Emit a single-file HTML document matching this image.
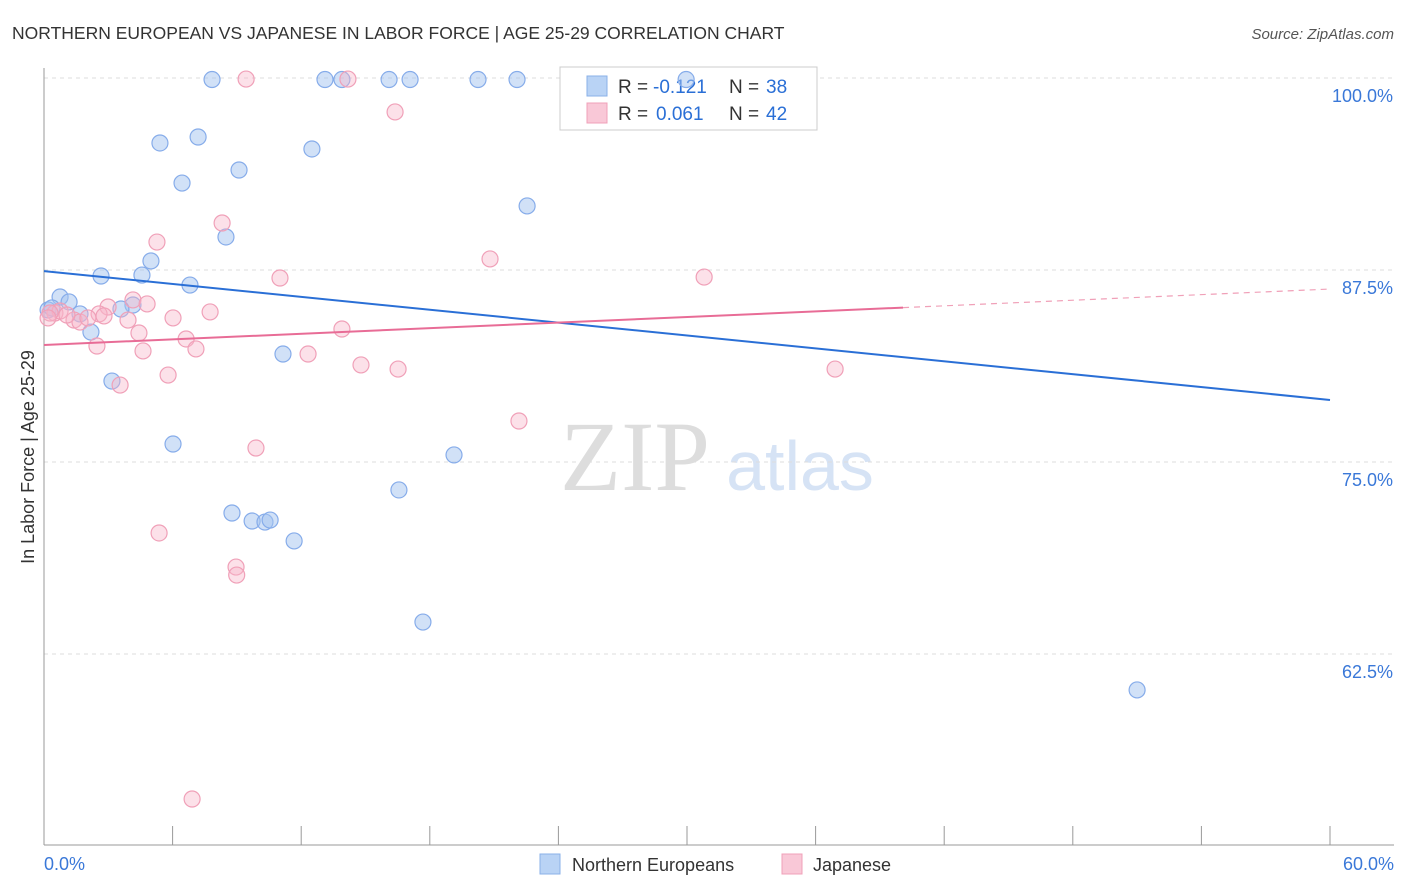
<!DOCTYPE html>
<html><head><meta charset="utf-8"><style>
body{margin:0;background:#fff;font-family:"Liberation Sans",sans-serif;}
svg{display:block}
</style></head><body>
<svg id="c" width="1406" height="892">
<text x="12" y="39" font-size="17.5" fill="#333">NORTHERN EUROPEAN VS JAPANESE IN LABOR FORCE | AGE 25-29 CORRELATION CHART</text>
<text x="1394" y="39" font-size="15" fill="#555" font-style="italic" text-anchor="end">Source: ZipAtlas.com</text>
<text x="635" y="490" font-size="100" fill="#ddd" font-family="Liberation Serif,serif" text-anchor="middle">ZIP</text>
<text x="800" y="490" font-size="70" fill="#d6e3f5" text-anchor="middle">atlas</text>
<text transform="translate(34,457) rotate(-90)" font-size="18" fill="#333" text-anchor="middle">In Labor Force | Age 25-29</text>
<g id="grid"></g>
<g>
<rect x="560" y="67" width="257" height="63" fill="#fff" stroke="#ccc"/>
<rect x="587" y="76" width="20" height="20" fill="#b9d3f5" stroke="#8ab0e8"/>
<rect x="587" y="103" width="20" height="20" fill="#f9c8d7" stroke="#f0a0b8"/>
<g font-size="19">
<text x="618" y="93" fill="#333">R =</text><text x="653" y="93" fill="#2a6fd6">-0.121</text>
<text x="729" y="93" fill="#333">N =</text><text x="766" y="93" fill="#2a6fd6">38</text></g>
<g font-size="19">
<text x="618" y="120" fill="#333">R =</text><text x="656" y="120" fill="#2a6fd6">0.061</text>
<text x="729" y="120" fill="#333">N =</text><text x="766" y="120" fill="#2a6fd6">42</text></g>
</g>
<g id="marks"></g>
<g>
<rect x="540" y="854" width="20" height="20" fill="#b9d3f5" stroke="#8ab0e8"/>
<text x="572" y="871" font-size="18" fill="#333">Northern Europeans</text>
<rect x="782" y="854" width="20" height="20" fill="#f9c8d7" stroke="#f0a0b8"/>
<text x="813" y="871" font-size="18" fill="#333">Japanese</text>
</g>
</svg>
<script>
const blueX=[7.84,13.11,13.9,16.1,17.08,20.25,22.07,29.96,5.41,7.19,6.44,9.1,12.5,22.54,8.49,4.99,2.66,4.57,6.81,0.75,1.17,4.15,3.59,1.68,0.19,0.37,2.19,11.15,3.17,6.02,19.13,16.56,8.77,9.71,10.31,10.55,11.67,17.68,51.0];
const blueY=[99.9,99.9,99.9,99.9,99.9,99.9,99.9,99.9,95.77,96.16,93.16,94.01,95.38,91.67,89.65,88.09,87.11,87.17,86.52,85.74,85.42,85.22,84.96,84.64,84.9,85.03,83.46,82.03,80.27,76.17,75.46,73.18,71.68,71.16,71.09,71.22,69.86,64.58,60.16];
const pinkX=[9.43,14.18,16.38,8.31,5.27,11.01,20.81,30.8,4.15,4.81,2.99,7.75,6.02,3.92,2.57,1.4,1.68,0.51,0.75,1.07,4.43,6.63,13.9,2.47,4.62,7.09,12.32,14.79,16.52,5.79,3.55,36.91,22.16,9.89,5.37,8.96,8.99,6.91,0.28,2.05,0.19,2.8];
const pinkY=[99.93,99.93,97.79,90.56,89.32,86.98,88.22,87.04,85.55,85.29,85.09,84.77,84.38,84.24,84.64,84.24,84.11,84.7,84.83,84.57,83.4,83.01,83.66,82.55,82.23,82.36,82.03,81.32,81.05,80.66,80.01,81.05,77.67,75.91,70.38,68.16,67.64,53.06,84.7,84.38,84.38,84.51];
const blueTrend=[87.43,79.04];
const pinkTrend=[82.62,86.26];
const pinkSolidEnd=40.08;
const yTicks=[100,87.5,75,62.5];
const yTickLabels=["100.0%","87.5%","75.0%","62.5%"];
const xTicks=[6,12,18,24,30,36,42,48,54,60];

const NS="http://www.w3.org/2000/svg";
const sx=v=>44+v/60*1286;
const sy=v=>78+(100-v)*15.36;
function mk(t,a,p){const e=document.createElementNS(NS,t);for(const k in a)e.setAttribute(k,a[k]);p.appendChild(e);return e;}
const grid=document.getElementById('grid'),marks=document.getElementById('marks');
yTicks.forEach((v,i)=>{
 const l=mk('line',{x1:44,x2:1394,y1:sy(v),y2:sy(v),stroke:'#ddd','stroke-dasharray':'4,4'},grid);
 
 
 const t=mk('text',{x:1393,y:sy(v)+24,'font-size':18,fill:'#3a78d8','text-anchor':'end'},grid);
 t.textContent=yTickLabels[i];
 
 
});
const ax=mk('line',{x1:44,x2:44,y1:68,y2:845,stroke:'#999'},grid);


const bx=mk('line',{x1:44,x2:1394,y1:845,y2:845,stroke:'#999'},grid);


xTicks.forEach(v=>{
 const l=mk('line',{x1:sx(v),x2:sx(v),y1:826,y2:845,stroke:'#999'},grid);
 
 
});
const x0=mk('text',{x:44,y:870,'font-size':18,fill:'#3a78d8'},grid);x0.textContent='0.0%';


const x1=mk('text',{x:1394,y:870,'font-size':18,fill:'#3a78d8','text-anchor':'end'},grid);x1.textContent='60.0%';


blueX.forEach((v,i)=>{
 const c=mk('circle',{cx:sx(v),cy:sy(blueY[i]),r:8,fill:'rgba(164,196,240,0.5)',stroke:'#86acea','stroke-width':1.2},marks);
 
 
});
pinkX.forEach((v,i)=>{
 const c=mk('circle',{cx:sx(v),cy:sy(pinkY[i]),r:8,fill:'rgba(248,180,200,0.4)',stroke:'#f0a0b8','stroke-width':1.2},marks);
 
 
});
const bt=mk('line',{x1:sx(0),y1:sy(blueTrend[0]),x2:sx(60),y2:sy(blueTrend[1]),stroke:'#2a6fd6','stroke-width':2},marks);


const py=v=>pinkTrend[0]+(pinkTrend[1]-pinkTrend[0])*v/60;
const pt=mk('line',{x1:sx(0),y1:sy(py(0)),x2:sx(pinkSolidEnd),y2:sy(py(pinkSolidEnd)),stroke:'#e86c96','stroke-width':2},marks);


const pd=mk('line',{x1:sx(pinkSolidEnd),y1:sy(py(pinkSolidEnd)),x2:sx(60),y2:sy(py(60)),stroke:'#f0a0b8','stroke-width':1.2,'stroke-dasharray':'6,5'},marks);


</script>
</body></html>
